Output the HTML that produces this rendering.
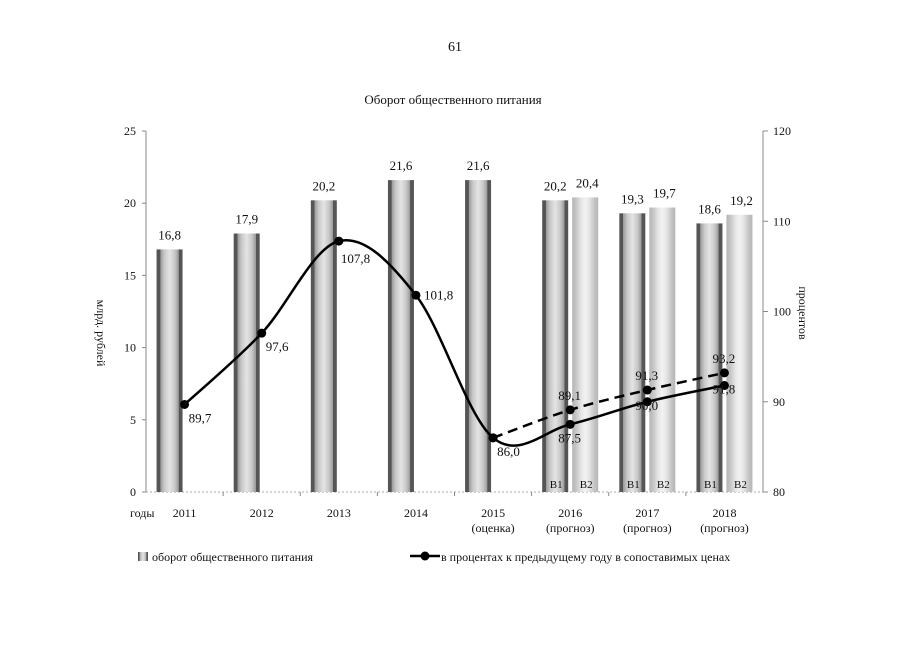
<!DOCTYPE html>
<html><head><meta charset="utf-8"><style>
body{margin:0;background:#fff}
svg text{font-family:"Liberation Serif",serif;fill:#111}
</style></head><body>
<svg id="chart" width="905" height="640" viewBox="0 0 905 640" xmlns="http://www.w3.org/2000/svg">
<defs>
<linearGradient id="g1" x1="0" x2="1" y1="0" y2="0">
<stop offset="0" stop-color="#555"/><stop offset="0.14" stop-color="#555"/><stop offset="0.15" stop-color="#9a9a9a"/><stop offset="0.3" stop-color="#c8c8c8"/><stop offset="0.5" stop-color="#e4e4e4"/><stop offset="0.7" stop-color="#c8c8c8"/><stop offset="0.85" stop-color="#9a9a9a"/><stop offset="0.86" stop-color="#555"/><stop offset="1" stop-color="#555"/>
</linearGradient>
<linearGradient id="g2" x1="0" x2="1" y1="0" y2="0">
<stop offset="0" stop-color="#b5b5b5"/><stop offset="0.15" stop-color="#c5c5c5"/><stop offset="0.35" stop-color="#e6e6e6"/><stop offset="0.5" stop-color="#f2f2f2"/><stop offset="0.65" stop-color="#e6e6e6"/><stop offset="0.85" stop-color="#c5c5c5"/><stop offset="1" stop-color="#b5b5b5"/>
</linearGradient>
</defs>
<text x="455" y="51" font-size="14" text-anchor="middle">61</text>
<text x="453" y="104" font-size="13" text-anchor="middle">Оборот общественного питания</text>
<g id="plot"></g>
<text transform="translate(97,333) rotate(90)" font-size="12" text-anchor="middle">млрд. рублей</text>
<text transform="translate(799,313) rotate(90)" font-size="12" text-anchor="middle">процентов</text>
<text x="130" y="517" font-size="12">годы</text>
<g>
<rect x="138" y="552" width="10" height="9" fill="url(#g1)"/>
<text x="152" y="561" font-size="12">оборот общественного питания</text>
<line x1="410" y1="556" x2="440" y2="556" stroke="#000" stroke-width="2.5"/>
<circle cx="425" cy="556" r="4.5" fill="#000"/>
<text x="441" y="561" font-size="12">в процентах к предыдущему году в сопоставимых ценах</text>
</g>
</svg>
<script>
const categories=["2011","2012","2013","2014","2015","2016","2017","2018"];
const subLabels=["","","","","(оценка)","(прогноз)","(прогноз)","(прогноз)"];
const barsB1=[16.8,17.9,20.2,21.6,21.6,20.2,19.3,18.6];
const barsB2=[null,null,null,null,null,20.4,19.7,19.2];
const growthB1=[89.7,97.6,107.8,101.8,86.0,87.5,90.0,91.8];
const growthB2=[null,null,null,null,86.0,89.1,91.3,93.2];
const leftTicks=[0,5,10,15,20,25];
const rightTicks=[80,90,100,110,120];
const NS="http://www.w3.org/2000/svg";
const plot=document.getElementById('plot');
const X0=146,X1=763,Y0=492,Y1=131;
const slot=(X1-X0)/categories.length;
const xc=i=>X0+slot*(i+0.5);
const yL=v=>Y0-(v/25)*(Y0-Y1);
const yR=v=>Y0-((v-80)/40)*(Y0-Y1);
function el(tag,attrs,parent){const e=document.createElementNS(NS,tag);for(const k in attrs)e.setAttribute(k,attrs[k]);(parent||plot).appendChild(e);return e;}
function fmt(v){return v.toFixed(1).replace('.',',');}
let a=el('line',{x1:X0,y1:Y1,x2:X0,y2:Y0,stroke:'#888','stroke-width':1});


a=el('line',{x1:X1,y1:Y1,x2:X1,y2:Y0,stroke:'#888','stroke-width':1});


a=el('line',{x1:X0,y1:Y0,x2:X1,y2:Y0,stroke:'#aaa','stroke-width':1,'stroke-dasharray':'2,2'});


leftTicks.forEach(t=>{el('line',{x1:X0-4,x2:X0,y1:yL(t),y2:yL(t),stroke:'#888'});
const tx=el('text',{x:X0-10,y:yL(t)+4,'font-size':12,'text-anchor':'end'});tx.textContent=t;

});
rightTicks.forEach(t=>{el('line',{x1:X1,x2:X1+5,y1:yR(t),y2:yR(t),stroke:'#888'});
const tx=el('text',{x:X1+10,y:yR(t)+4,'font-size':12});tx.textContent=t;

});
categories.forEach((c,i)=>{
 if(i>0)el('line',{x1:X0+slot*i,x2:X0+slot*i,y1:Y0,y2:Y0+4,stroke:'#888'});
 const t=el('text',{x:xc(i),y:517,'font-size':12,'text-anchor':'middle'});t.textContent=c;
 
 
 if(subLabels[i]){const s=el('text',{x:xc(i),y:532,'font-size':12,'text-anchor':'middle'});s.textContent=subLabels[i];
 
 }
 const bw=26;
 const v=barsB1[i];
 const r=el('rect',{x:xc(i)-28,y:yL(v),width:bw,height:Y0-yL(v),fill:'url(#g1)'});
 
 
 const lb=el('text',{x:xc(i)-15,y:yL(v)-10,'font-size':13,'text-anchor':'middle'});lb.textContent=fmt(v);
 
 
 if(barsB2[i]!=null){const v2=barsB2[i];
  const r2=el('rect',{x:xc(i)+2,y:yL(v2),width:bw,height:Y0-yL(v2),fill:'url(#g2)'});
  
  
  const l2=el('text',{x:xc(i)+17,y:yL(v2)-10,'font-size':13,'text-anchor':'middle'});l2.textContent=fmt(v2);
  
  
  const t1=el('text',{x:xc(i)-14,y:Y0-4,'font-size':11,'text-anchor':'middle'});t1.textContent='В1';
  
  
  const t2=el('text',{x:xc(i)+16,y:Y0-4,'font-size':11,'text-anchor':'middle'});t2.textContent='В2';
  
  }
});
function spline(pts){let d='M'+pts[0][0]+','+pts[0][1];
 for(let i=0;i<pts.length-1;i++){const p0=pts[i-1]||pts[i],p1=pts[i],p2=pts[i+1],p3=pts[i+2]||pts[i+1];
  const c1=[p1[0]+(p2[0]-p0[0])/6,p1[1]+(p2[1]-p0[1])/6],c2=[p2[0]-(p3[0]-p1[0])/6,p2[1]-(p3[1]-p1[1])/6];
  d+=' C'+c1+' '+c2+' '+p2;}return d;}
function series(data,dash,name){
 const pts=[];data.forEach((v,i)=>{if(v!=null)pts.push([xc(i),yR(v),v,i]);});
 const p=el('path',{d:spline(pts.map(q=>[q[0],q[1]])),fill:'none',stroke:'#000','stroke-width':2.5,'stroke-dasharray':dash});
 
 
 pts.forEach(q=>{const c=el('circle',{cx:q[0],cy:q[1],r:4.5,fill:'#000'});
  
  });
 return pts;}
const s1=series(growthB1,'none','growth-line-b1');
const s2=series(growthB2,'10,6','growth-line-b2');
s1.forEach(q=>{const t=el('text',{x:q[0]+(q[3]>=5?-12:2),y:q[1]+(q[3]>=5?-2+ (q[3]==5?20:10):18),'font-size':13});
 if(q[3]<5){t.setAttribute('y',q[1]+(q[3]==3?4:18));t.setAttribute('x',q[0]+(q[3]==3?8:4));}
 if(q[3]==2){t.setAttribute('x',q[0]+2);t.setAttribute('y',q[1]+22);}
 t.textContent=fmt(q[2]);
 
 });
s2.forEach(q=>{if(q[3]<5)return;const t=el('text',{x:q[0]-12,y:q[1]-10,'font-size':13});t.textContent=fmt(q[2]);
 
 });
</script>
</body></html>
